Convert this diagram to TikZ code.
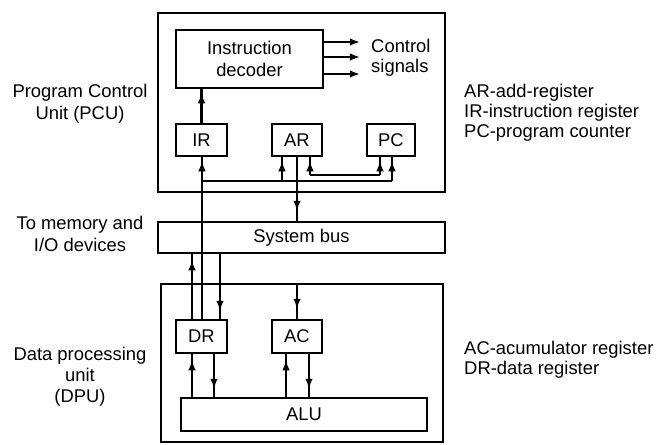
\documentclass[tikz,border=0pt]{standalone}
\usepackage{fontspec}
\setmainfont{Liberation Sans}
\usetikzlibrary{arrows.meta,decorations.markings}
\begin{document}
\begin{tikzpicture}[x=0.5pt,y=-0.5pt,line width=1.25pt,
  font=\fontsize{9.2}{11}\selectfont,
  blk/.style={draw, line width=1.25pt, inner sep=0pt, align=center},
  lbl/.style={align=center, inner sep=0pt},
  rlbl/.style={align=left, inner sep=0pt, anchor=west, font=\fontsize{9.2}{10}\selectfont},
  tipat/.style={postaction={decorate},decoration={markings,mark=at position #1 with {\arrow{Latex[length=5pt,width=3.8pt]}}}},
  sig/.style={-{Latex[length=5pt,width=3.8pt]}}
]
\useasboundingbox (0,0) rectangle (661,445);
% boxes
\node[blk, minimum width=143.5pt, minimum height=89.5pt] (pcu) at (301.5,102.5) {};
\node[blk, minimum width=73.5pt, minimum height=29pt] (dec) at (249.5,59) {Instruction\\decoder};
\node[blk, minimum width=25.5pt, minimum height=16pt] (ir) at (201.5,140) {IR};
\node[blk, minimum width=25pt, minimum height=16pt] (ar) at (297,140) {AR};
\node[blk, minimum width=24pt, minimum height=16pt] (pc) at (391,140) {PC};
\node[blk, minimum width=143.5pt, minimum height=15.5pt] (bus) at (301.5,237.5) {System bus};
\node[blk, minimum width=141pt, minimum height=79pt] (dpu) at (302,363) {};
\node[blk, minimum width=25.5pt, minimum height=16.5pt] (dr) at (201.5,336.5) {DR};
\node[blk, minimum width=25pt, minimum height=16.5pt] (ac) at (297,336.5) {AC};
\node[blk, minimum width=123pt, minimum height=16.5pt] (alu) at (304,414.5) {ALU};
% labels
\node[lbl] (pculbl) at (80,104) {Program Control\\Unit (PCU)};
\node[lbl] (memlbl) at (80,234) {To memory and\\I/O devices};
\node[lbl, font=\fontsize{9.2}{10.5}\selectfont] (dpulbl) at (80,377) {Data processing\\unit\\(DPU)};
\node[rlbl] (reg1) at (463,113) {AR-add-register\\IR-instruction register\\PC-program counter};
\node[rlbl] (reg2) at (463,360) {AC-acumulator register\\DR-data register};
\node[rlbl] (ctl) at (370,58) {Control\\signals};
% control signals
\coordinate (c1) at (360,42);
\coordinate (c2) at (360,57);
\coordinate (c3) at (360,74);
\draw[sig] (dec.east |- c1) -- (c1);
\draw[sig] (dec.east |- c2) -- (c2);
\draw[sig] (dec.east |- c3) -- (c3);
% IR to decoder
\draw[tipat=-2pt] (ir.north) -- (ir.north |- dec.south);
% internal bus of PCU
\coordinate (j0) at (202,181);
\coordinate (j2) at (282,181);
\coordinate (j1) at (392,181);
\draw[tipat=-2pt] (dr.north -| j0) -- (ir.south -| j0);
\draw (j0) -- (j1);
\draw[tipat=-2pt] (j2) -- (ar.south -| j2);
\draw[tipat=-2pt] (j1) -- (pc.south -| j1);
% AR to bus
\draw[tipat=-5pt] (ar.south) -- (ar.south |- bus.north);
% AR - PC
\coordinate (k1) at (310,175);
\coordinate (k2) at (380,175);
\draw[tipat=-2pt] (k1) -- (ar.south -| k1);
\draw (k1) -- (k2);
\draw[tipat=-2pt] (k2) -- (pc.south -| k2);
% bus - DR
\coordinate (xa) at (192,0);
\coordinate (xb) at (220,0);
\coordinate (xc) at (214,0);
\coordinate (xd) at (286,0);
\coordinate (xe) at (309,0);
\draw[tipat=-3pt] (dr.north -| xa) -- (bus.south -| xa);
\draw[tipat=-4pt] (bus.south -| xb) -- (dr.north -| xb);
% DPU top to AC
\draw[tipat=-5pt] (ac.north |- dpu.north) -- (ac.north);
% DR - ALU, AC - ALU
\draw[tipat=-3pt] (alu.north -| xa) -- (dr.south -| xa);
\draw[tipat=-4pt] (dr.south -| xc) -- (alu.north -| xc);
\draw[tipat=-3pt] (alu.north -| xd) -- (ac.south -| xd);
\draw[tipat=-4pt] (ac.south -| xe) -- (alu.north -| xe);
\end{tikzpicture}
\end{document}
